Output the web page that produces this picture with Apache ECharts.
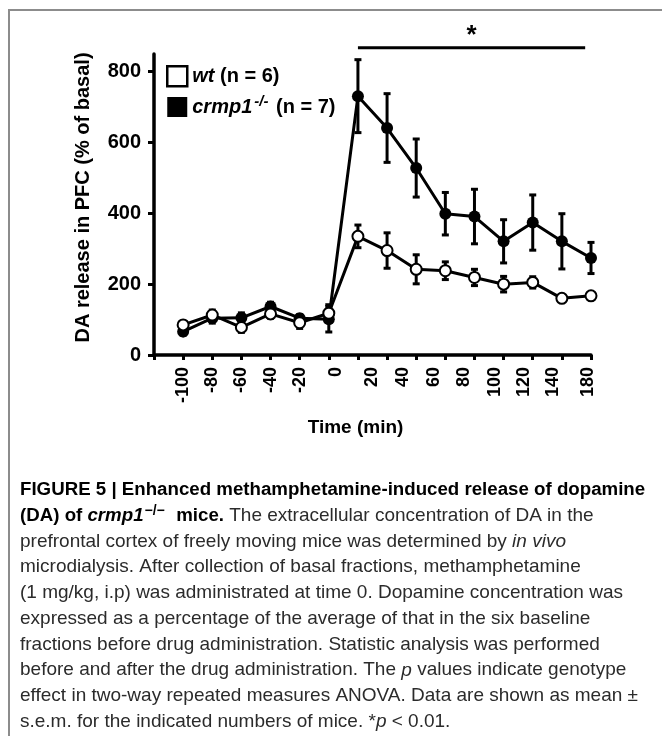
<!DOCTYPE html>
<html>
<head>
<meta charset="utf-8">
<script src="https://cdn.jsdelivr.net/npm/echarts@6/dist/echarts.min.js"></script>
<style>
  html, body { margin: 0; padding: 0; background: #fff; }
  #chart { width: 662px; height: 736px; }
</style>
</head>
<body>
<div id="chart"></div>
<script>
// time points (min), drug given at 0
var times = [-100, -80, -60, -40, -20, 0, 20, 40, 60, 80, 100, 120, 140, 160, 180];
// wt (n = 6)
var wtMean = [85, 113, 78, 116, 91, 118, 335, 295, 242, 238, 219, 200, 205, 160, 167];
var wtSem = [10, 14, 14, 12, 16, 24, 32, 50, 41, 25, 23, 22, 16, 8, 8];
// crmp1 -/- (n = 7)
var koMean = [66, 104, 105, 137, 104, 101, 731, 641, 528, 399, 391, 321, 374, 321, 274];
var koSem = [10, 14, 14, 12, 10, 36, 103, 97, 82, 60, 77, 61, 78, 78, 44];

var xTicks = [-120, -100, -80, -60, -40, -20, 0, 20, 40, 60, 80, 100, 120, 140, 160, 180];
var xTickLabels = [-100, -80, -60, -40, -20, 0, 20, 40, 60, 80, 100, 120, 140, 180];
var yTickLabels = [0, 200, 400, 600, 800];

// significance bar: from 20 to ~176 min, drawn above the plot
var sigFrom = 20, sigTo = 176, sigLevel = 868, sigMid = 98, starLevel = 902;

var captionLines = [
  "{b|FIGURE 5 | Enhanced methamphetamine-induced release of dopamine}",
  "{b|(DA) of }{bi|crmp1}{sup|\u2212/\u2212}{b|  mice.}{r| The extracellular concentration of DA in the}",
  "{r|prefrontal cortex of freely moving mice was determined by }{i|in vivo}",
  "{r|microdialysis. After collection of basal fractions, methamphetamine}",
  "{r|(1 mg/kg, i.p) was administrated at time 0. Dopamine concentration was}",
  "{r|expressed as a percentage of the average of that in the six baseline}",
  "{r|fractions before drug administration. Statistic analysis was performed}",
  "{r|before and after the drug administration. The }{i|p}{r| values indicate genotype}",
  "{r|effect in two-way repeated measures ANOVA. Data are shown as mean \u00b1}",
  "{r|s.e.m. for the indicated numbers of mice. *}{i|p}{r| < 0.01.}"
];

var FONT = "'Liberation Sans', Arial, sans-serif";

// the printed labels after 0 sit a little right of their ticks
var labelNudge = { 0: 5, 20: 10, 40: 11, 60: 12, 80: 13, 100: 14, 120: 14, 140: 14, 180: -2 };
var labelAt = {};
var labelPos = xTickLabels.map(function (v) {
  var p = v + (labelNudge[v] || 0);
  labelAt[p] = String(v);
  return p;
});

function pairs(mean) {
  return times.map(function (t, i) { return [t, mean[i]]; });
}

function errorBars(name, mean, sem, z) {
  return {
    type: "custom",
    name: name,
    silent: true,
    z: z,
    data: times.map(function (t, i) { return [t, mean[i] - sem[i], mean[i] + sem[i]]; }),
    encode: { x: 0, y: [1, 2] },
    renderItem: function (params, api) {
      var lo = api.coord([api.value(0), api.value(1)]);
      var hi = api.coord([api.value(0), api.value(2)]);
      var w = 3.5;
      var st = { stroke: "#000", lineWidth: 3 };
      return {
        type: "group",
        children: [
          { type: "line", shape: { x1: lo[0], y1: lo[1], x2: hi[0], y2: hi[1] }, style: st },
          { type: "line", shape: { x1: hi[0] - w, y1: hi[1], x2: hi[0] + w, y2: hi[1] }, style: st },
          { type: "line", shape: { x1: lo[0] - w, y1: lo[1], x2: lo[0] + w, y2: lo[1] }, style: st }
        ]
      };
    }
  };
}

var chart = echarts.init(document.getElementById("chart"));

chart.setOption({
  animation: false,
  backgroundColor: "#fff",
  grid: { left: 154, right: 71, top: 54, bottom: 381 },
  legend: {
    data: [
      { name: "wt", icon: "rect", itemStyle: { color: "#fff", borderColor: "#000", borderWidth: 2.5 } },
      { name: "crmp1", icon: "rect", itemStyle: { color: "#000", borderWidth: 0 } }
    ],
    orient: "vertical",
    left: 166,
    top: 65,
    padding: 0,
    itemWidth: 20,
    itemHeight: 20,
    itemGap: 7,
    selectedMode: false,
    formatter: function (name) {
      return name === "wt" ? "{bi|wt} (n = 6)" : "{bi|crmp1}{sup|-/-} (n = 7)";
    },
    textStyle: {
      fontFamily: FONT, fontSize: 20, fontWeight: "bold", color: "#000",
      rich: {
        bi: { fontFamily: FONT, fontSize: 20, fontWeight: "bold", fontStyle: "italic", color: "#000" },
        sup: { fontFamily: FONT, fontSize: 15, fontWeight: "bold", fontStyle: "italic", color: "#000", padding: [0, 2, 10, 2] }
      }
    }
  },
  xAxis: {
    type: "value",
    min: -120,
    max: 180,
    interval: 20,
    name: "Time (min)",
    nameLocation: "middle",
    nameGap: 63,
    nameTextStyle: { fontFamily: FONT, fontSize: 19, fontWeight: "bold", color: "#000", padding: [0, 34, 0, 0] },
    axisLine: { onZero: false, lineStyle: { color: "#000", width: 3.5 } },
    axisTick: { show: true, length: 5, customValues: xTicks, lineStyle: { color: "#000", width: 3 } },
    axisLabel: {
      rotate: 90,
      margin: 12,
      customValues: labelPos,
      formatter: function (v) { return labelAt[v] || ""; },
      fontFamily: FONT, fontSize: 18, fontWeight: "bold", color: "#000"
    },
    splitLine: { show: false }
  },
  yAxis: {
    type: "value",
    min: 0,
    max: 850,
    name: "DA release in PFC (% of basal)",
    nameLocation: "middle",
    nameGap: 61,
    nameTextStyle: { fontFamily: FONT, fontSize: 20, fontWeight: "bold", color: "#000", padding: [0, 0, 0, 14] },
    axisLine: { show: true, onZero: false, lineStyle: { color: "#000", width: 3.5 } },
    axisTick: { show: true, length: 6, customValues: yTickLabels, lineStyle: { color: "#000", width: 3 } },
    axisLabel: {
      margin: 13,
      customValues: yTickLabels,
      fontFamily: FONT, fontSize: 20, fontWeight: "bold", color: "#000"
    },
    splitLine: { show: false }
  },
  series: [
    errorBars("crmp1-err", koMean, koSem, 2),
    {
      name: "crmp1",
      type: "line",
      z: 3,
      data: pairs(koMean),
      symbol: "circle",
      symbolSize: 12,
      itemStyle: { color: "#000" },
      lineStyle: { color: "#000", width: 3 }
    },
    errorBars("wt-err", wtMean, wtSem, 4),
    {
      name: "wt",
      type: "line",
      z: 5,
      data: pairs(wtMean),
      symbol: "circle",
      symbolSize: 11,
      itemStyle: { color: "#fff", borderColor: "#000", borderWidth: 2 },
      lineStyle: { color: "#000", width: 3 }
    }
  ]
});

// annotations placed through the chart's own scales
var p1 = chart.convertToPixel({ gridIndex: 0 }, [sigFrom, sigLevel]);
var p2 = chart.convertToPixel({ gridIndex: 0 }, [sigTo, sigLevel]);
var ps = chart.convertToPixel({ gridIndex: 0 }, [sigMid, starLevel]);

var graphics = [
  {
    type: "rect",
    shape: { x: 9, y: 10, width: 700, height: 800 },
    style: { fill: "none", stroke: "#8c8c8c", lineWidth: 2 },
    silent: true
  },
  {
    type: "line",
    shape: { x1: p1[0], y1: p1[1], x2: p2[0], y2: p2[1] },
    style: { stroke: "#000", lineWidth: 3 }
  },
  {
    type: "text",
    x: ps[0], y: ps[1],
    style: { text: "*", fontFamily: FONT, fontSize: 26, fontWeight: "bold", fill: "#000", align: "center", verticalAlign: "middle" }
  }
];

captionLines.forEach(function (line, i) {
  graphics.push({
    type: "text",
    x: 20,
    y: 490 + i * 25.75,
    style: {
      text: line,
      verticalAlign: "middle",
      rich: {
        b: { fontFamily: FONT, fontSize: 18.7, fontWeight: "bold", fill: "#000" },
        bi: { fontFamily: FONT, fontSize: 18.7, fontWeight: "bold", fontStyle: "italic", fill: "#000" },
        sup: { fontFamily: FONT, fontSize: 14, fontWeight: "bold", fill: "#000", padding: [0, 1, 10, 1] },
        r: { fontFamily: FONT, fontSize: 19, fill: "#2b2b2b" },
        i: { fontFamily: FONT, fontSize: 19, fontStyle: "italic", fill: "#2b2b2b" }
      }
    }
  });
});

chart.setOption({ graphic: graphics });
</script>
</body>
</html>
